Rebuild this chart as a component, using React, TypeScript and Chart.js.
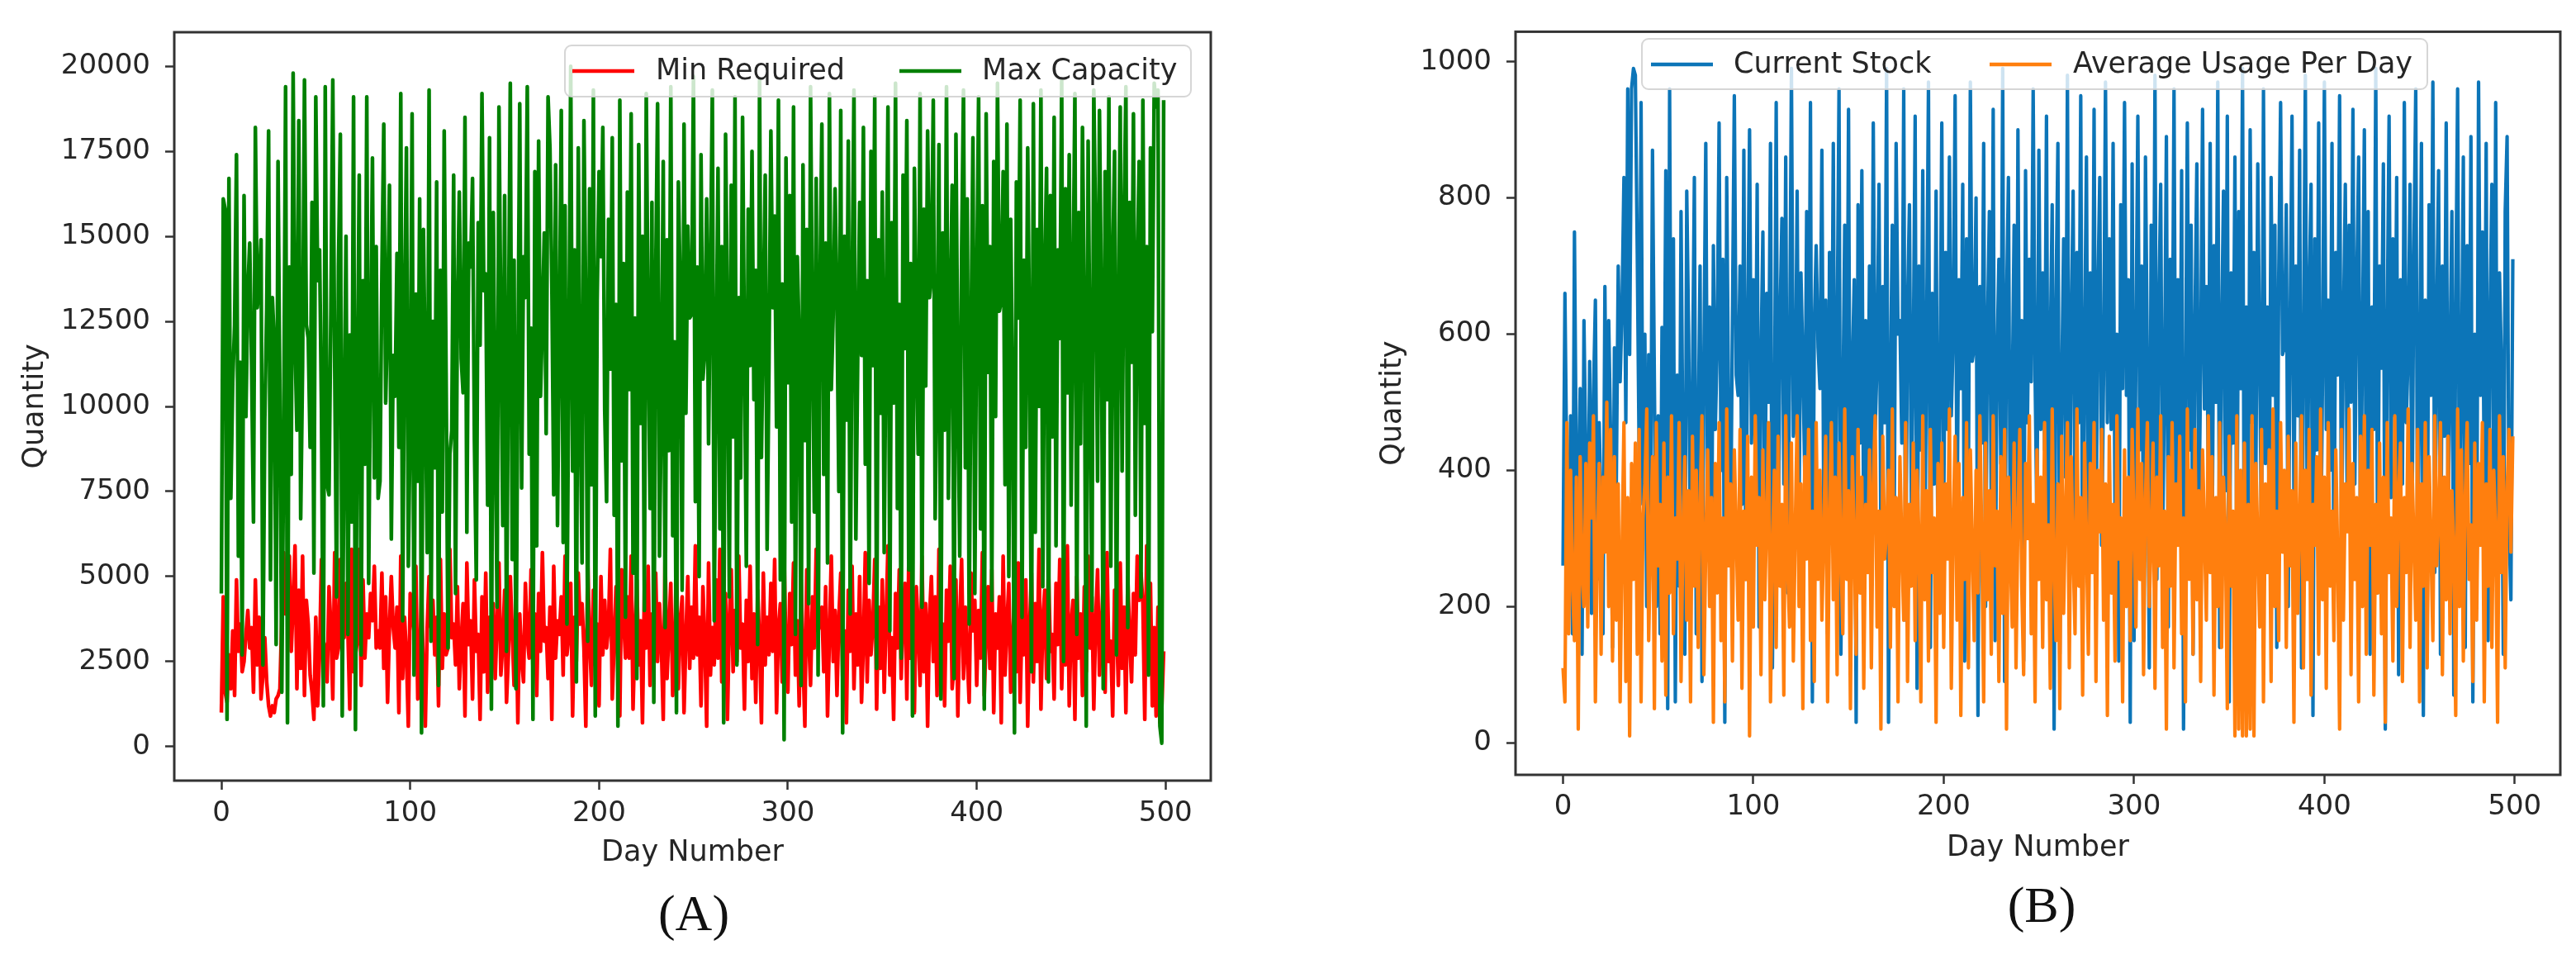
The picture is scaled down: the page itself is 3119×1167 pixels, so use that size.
import React, { FC, useEffect, useRef } from "react";
import { Chart, registerables } from "chart.js";

Chart.register(...registerables);
Chart.defaults.font.family = "'DejaVu Sans', sans-serif";

// tick labels
const xTicks = [0, 100, 200, 300, 400, 500];
const yTicksA = [0, 2500, 5000, 7500, 10000, 12500, 15000, 17500, 20000];
const yTicksB = [0, 200, 400, 600, 800, 1000];

// (A) Min Required, one value per day (0..499)
const minRequired = [
  1000, 4400, 1600, 1300, 2700, 1700, 3400, 1500, 4900, 2800, 3600, 2200, 2500, 3300, 4000, 2900, 3500, 1600, 4900, 2400,
  3800, 1400, 2100, 3200, 1900, 1200, 900, 1200, 1000, 1400, 1500, 1700, 3800, 5700, 3900, 4100, 5600, 2800, 4200, 5900,
  1700, 4600, 2300, 5600, 1500, 4300, 3600, 2100, 1600, 800, 3800, 1200, 2700, 5500, 3100, 2900, 1900, 4700, 3500, 1400,
  5700, 2600, 2900, 5500, 3700, 3200, 4800, 3400, 1100, 5800, 2200, 2700, 3100, 5800, 1800, 4900, 2600, 3900, 3200, 4500,
  3700, 5300, 2900, 3400, 2900, 5100, 2300, 4400, 1300, 3500, 5000, 3500, 2900, 4100, 1000, 5600, 2000, 3800, 2700, 600,
  4500, 3900, 3400, 5300, 1400, 2500, 4600, 2100, 600, 3500, 5000, 3500, 4300, 2700, 3800, 1200, 5500, 2300, 3900, 2700,
  2900, 5800, 3200, 3600, 2400, 4700, 1700, 3100, 4200, 900, 5400, 3000, 3700, 1400, 4900, 2800, 3300, 800, 4400, 2200,
  5100, 1600, 3800, 2500, 4200, 2000, 3600, 5400, 2100, 3000, 4600, 1300, 2700, 5000, 3400, 1800, 4300, 700, 3900, 2600,
  1900, 4800, 3200, 2600, 5200, 2300, 3900, 1500, 4500, 2800, 5700, 3100, 3500, 2000, 4100, 800, 5300, 2600, 3700, 3300,
  4400, 2100, 5600, 2700, 3300, 4800, 900, 3800, 2500, 5100, 3600, 4200, 2900, 600, 5500, 3100, 1800, 4600, 2400, 3600,
  1200, 5000, 2700, 4300, 2900, 3500, 5800, 1400, 3100, 4700, 2200, 900, 5200, 3800, 2600, 4400, 2600, 5600, 1100, 3300,
  4900, 2400, 3700, 700, 4600, 2900, 5300, 1800, 3900, 2300, 5100, 2500, 4200, 3000, 800, 5700, 2000, 3400, 4800, 1500,
  2800, 5500, 1700, 3600, 4400, 1000, 3200, 5000, 2300, 4100, 2600, 5900, 2700, 3800, 1200, 4700, 3100, 600, 5400, 2100,
  3500, 2400, 4900, 2600, 5800, 1900, 3300, 4500, 800, 3700, 5200, 2200, 4000, 2500, 5600, 2900, 3600, 1100, 4300, 2500,
  5300, 2000, 3900, 1300, 4600, 3100, 700, 5100, 2400, 3800, 2700, 4800, 2800, 5500, 1000, 3500, 4200, 1900, 5700, 2700,
  1600, 4500, 3000, 5400, 2100, 3700, 1200, 4900, 2600, 600, 5200, 3300, 1800, 4400, 2900, 5800, 3400, 3600, 4100, 2200,
  4700, 900, 3200, 5600, 2500, 4000, 1500, 3800, 5100, 2000, 3400, 700, 4600, 2800, 5300, 1700, 3900, 2400, 5000, 1300,
  3000, 5700, 1900, 4300, 2700, 3600, 5500, 1100, 4100, 2300, 4900, 1600, 3700, 5900, 2100, 3200, 800, 4500, 2900, 5200,
  2000, 3900, 4800, 1400, 5400, 2600, 3300, 1000, 4700, 3500, 1800, 5600, 2200, 4200, 600, 3800, 5000, 2500, 4400, 1500,
  5800, 2800, 3600, 1200, 4600, 3100, 5300, 1700, 2400, 4900, 900, 3700, 5500, 2000, 4100, 2700, 1300, 5100, 3400, 4300,
  1800, 4000, 2600, 5700, 1500, 3300, 4700, 2300, 5200, 1000, 3900, 2900, 4400, 700, 5600, 2100, 3600, 4800, 1600, 3000,
  4500, 2200, 5400, 1300, 3800, 2700, 4900, 600, 3500, 5100, 1900, 4200, 2500, 5800, 1100, 3700, 4600, 2000, 5300, 2800,
  3300, 1400, 4800, 3000, 5500, 1700, 4000, 2400, 5900, 1200, 3600, 4300, 800, 5000, 2600, 3900, 1500, 4700, 2200, 5600,
  2900, 4400, 1100, 3700, 5200, 2100, 3400, 4900, 1600, 5700, 2500, 3100, 900, 4600, 3800, 1800, 5400, 2300, 4100, 1000,
  5000, 3200, 1900, 4500, 2700, 5600, 4300, 5100, 4200, 800, 5900, 2400, 4800, 1200, 3500, 900, 4100, 700, 1100, 2800,
];

// (A) Max Capacity
const maxCapacity = [
  4500, 16100, 15800, 800, 16700, 7300, 10700, 12400, 17400, 5600, 11300, 2700, 16200, 9700, 13400, 14800, 11200, 6600, 18200, 12900,
  13500, 14900, 2400, 9600, 12900, 18100, 4900, 13200, 11900, 3000, 17200, 10200, 1600, 9100, 19400, 700, 14100, 8000, 19800, 11900,
  9300, 18400, 6700, 11200, 19600, 12400, 12000, 8800, 16000, 5100, 19100, 13700, 14600, 9900, 1200, 19400, 7700, 7400, 12900, 19600,
  11300, 4400, 14100, 18000, 900, 9400, 15000, 3300, 12100, 6600, 19100, 500, 10600, 16800, 2700, 13700, 8300, 19100, 4800, 11600,
  17300, 7900, 14700, 7300, 7800, 13900, 18300, 10100, 12600, 16500, 6100, 11500, 10300, 14500, 8800, 19200, 3700, 12700, 17600, 5300,
  9600, 18600, 2100, 13300, 7800, 16100, 400, 15200, 10800, 5700, 19300, 3100, 12500, 8200, 16600, 1800, 14000, 6900, 18100, 11000,
  2900, 8600, 9300, 16800, 4500, 12900, 16300, 11400, 10400, 18500, 6300, 14800, 14100, 16700, 9000, 4900, 15400, 11800, 19200, 13400,
  13900, 7100, 17900, 1100, 15700, 9700, 4100, 18800, 12400, 6500, 16200, 2800, 11700, 19500, 5500, 14300, 1700, 10900, 18900, 7600,
  14400, 13200, 19400, 8600, 12300, 800, 16900, 5900, 17800, 10300, 12500, 15100, 9200, 19100, 17600, 13600, 7400, 17100, 6500, 12000,
  18700, 6000, 15900, 3600, 11400, 20000, 8100, 14600, 1900, 17600, 10000, 5400, 18400, 12800, 3100, 16400, 7700, 19300, 900, 13100,
  16900, 14400, 18200, 9900, 7200, 15500, 11100, 17900, 6800, 13000, 600, 19000, 8400, 14200, 3800, 16300, 10500, 18600, 5100, 12600,
  2000, 17700, 9500, 15000, 4000, 19200, 12200, 7000, 16000, 1300, 13800, 18900, 5600, 10100, 17200, 3500, 14900, 8700, 19400, 6200,
  11900, 1000, 16600, 13400, 4600, 18300, 9800, 15300, 12600, 12700, 19700, 7200, 14100, 5000, 17400, 10800, 11600, 16100, 8900, 13900,
  19300, 3700, 11000, 17000, 6400, 14700, 700, 18000, 12500, 4400, 16500, 9100, 19100, 2400, 13200, 7900, 18500, 11600, 5300, 15800,
  11200, 17500, 10200, 14000, 3000, 19600, 8500, 12800, 16800, 5800, 11300, 18100, 12900, 15600, 9400, 19000, 4900, 13600, 200, 17300,
  10700, 16200, 6600, 18800, 3300, 14400, 11900, 1800, 17100, 9000, 15200, 4200, 19400, 12100, 6900, 16700, 2100, 13500, 18300, 8000,
  14800, 5400, 19200, 10500, 12700, 16400, 12900, 7500, 18700, 400, 15000, 9600, 17800, 3900, 13300, 19300, 6100, 11500, 16000, 11500,
  18200, 8300, 13700, 4800, 17500, 11200, 19100, 2300, 14900, 9800, 16300, 5700, 12400, 18800, 3400, 15400, 10100, 19500, 7000, 13000,
  2600, 16800, 11700, 18400, 5200, 14200, 900, 17000, 12300, 8600, 19200, 4100, 15800, 10600, 18100, 13200, 13800, 19000, 6700, 11400,
  17700, 1400, 15100, 9300, 19400, 7300, 12900, 16500, 2000, 18000, 10900, 5600, 14500, 19300, 8200, 16100, 3600, 12000, 17900, 4500,
  13400, 19100, 6400, 15900, 1100, 18600, 11000, 14700, 4300, 17200, 9700, 19500, 12800, 13100, 16900, 7700, 18300, 5000, 15500, 10300,
  400, 16600, 12600, 19000, 3800, 14300, 8800, 17600, 11800, 2200, 18900, 6300, 15200, 10000, 19300, 4700, 13900, 17000, 1900, 16200,
  9100, 18500, 5900, 14600, 12000, 19600, 2500, 16400, 10400, 17400, 7100, 13500, 19200, 3300, 15700, 8900, 18200, 12700, 600, 17800,
  11100, 4000, 19300, 15000, 7800, 18700, 13200, 1700, 16900, 10200, 19100, 5300, 14100, 17500, 2700, 12500, 18800, 8100, 15300, 19400,
  3500, 16000, 11300, 18600, 6800, 13900, 17200, 4400, 19000, 9500, 14700, 2100, 17600, 12200, 19500, 18800, 19300, 600, 100, 19000,
];

// (B) Current Stock
const currentStock = [
  260, 660, 390, 270, 480, 160, 750, 400, 320, 520, 130, 620, 410, 280, 560, 190, 510, 650, 240, 470,
  340, 160, 670, 350, 620, 450, 140, 580, 380, 700, 530, 640, 830, 470, 960, 570, 960, 990, 980, 720,
  420, 940, 350, 600, 200, 570, 310, 870, 530, 200, 480, 160, 610, 380, 840, 50, 960, 280, 740, 60,
  540, 230, 780, 420, 130, 810, 600, 250, 520, 830, 160, 450, 700, 90, 560, 880, 330, 640, 220, 730,
  460, 580, 910, 400, 710, 30, 830, 480, 280, 620, 950, 540, 510, 700, 350, 870, 240, 600, 900, 440,
  680, 420, 820, 170, 560, 750, 300, 660, 500, 880, 110, 430, 940, 250, 620, 770, 380, 860, 220, 540,
  990, 450, 470, 810, 340, 690, 560, 390, 780, 420, 940, 60, 610, 730, 580, 520, 870, 330, 650, 160,
  720, 410, 880, 240, 590, 960, 130, 480, 760, 360, 930, 210, 550, 680, 30, 790, 440, 840, 270, 620,
  350, 700, 380, 910, 460, 560, 820, 290, 670, 470, 990, 30, 530, 760, 310, 880, 600, 620, 440, 960,
  180, 640, 790, 350, 560, 920, 80, 700, 430, 840, 250, 590, 970, 140, 660, 380, 810, 230, 500, 910,
  330, 720, 460, 860, 480, 600, 950, 310, 680, 520, 820, 120, 740, 390, 970, 560, 580, 800, 40, 670,
  440, 880, 200, 610, 780, 340, 930, 150, 560, 710, 410, 990, 90, 640, 830, 280, 500, 760, 190, 900,
  360, 620, 120, 840, 470, 710, 530, 960, 540, 320, 870, 460, 690, 430, 920, 250, 580, 790, 20, 650,
  880, 130, 520, 740, 390, 980, 220, 610, 810, 300, 720, 470, 950, 180, 570, 860, 240, 690, 400, 930,
  280, 660, 830, 290, 540, 970, 470, 740, 460, 880, 330, 600, 120, 790, 520, 940, 510, 680, 30, 850,
  150, 590, 920, 430, 700, 260, 860, 550, 110, 760, 380, 980, 240, 630, 820, 300, 520, 890, 170, 710,
  470, 960, 320, 680, 350, 840, 20, 500, 910, 430, 760, 130, 620, 850, 310, 550, 930, 490, 670, 400,
  880, 260, 730, 500, 970, 140, 600, 810, 370, 920, 60, 690, 440, 860, 230, 780, 520, 990, 150, 640,
  330, 900, 470, 720, 380, 850, 560, 290, 960, 410, 640, 320, 830, 510, 760, 140, 680, 940, 570, 580,
  790, 200, 610, 920, 350, 700, 480, 870, 110, 570, 980, 300, 660, 820, 40, 740, 430, 910, 240, 530,
  970, 460, 650, 400, 880, 230, 720, 540, 950, 270, 610, 820, 340, 760, 500, 930, 380, 670, 860, 260,
  590, 900, 310, 780, 130, 640, 460, 990, 220, 700, 550, 850, 20, 610, 920, 360, 740, 480, 830, 100,
  680, 380, 940, 470, 570, 820, 290, 710, 960, 250, 530, 880, 40, 650, 200, 790, 510, 970, 250, 620,
  840, 130, 700, 450, 910, 330, 560, 780, 70, 640, 960, 280, 520, 860, 140, 730, 410, 890, 60, 600,
  210, 970, 510, 750, 380, 880, 150, 620, 820, 340, 940, 220, 690, 560, 130, 780, 890, 320, 210, 710,
];

// (B) Average Usage Per Day
const averageUsage = [
  110, 60, 470, 160, 400, 230, 150, 390, 20, 420, 250, 200, 410, 170, 440, 330, 480, 60, 300, 410,
  130, 390, 280, 500, 200, 460, 120, 420, 180, 380, 60, 280, 470, 90, 360, 10, 410, 240, 440, 130,
  460, 60, 330, 380, 490, 150, 300, 420, 50, 470, 260, 350, 120, 440, 70, 390, 220, 480, 160, 330,
  270, 470, 90, 310, 420, 180, 370, 60, 450, 230, 400, 140, 350, 480, 100, 290, 430, 200, 360, 30,
  410, 220, 470, 150, 330, 60, 490, 260, 380, 120, 430, 310, 180, 460, 80, 340, 240, 450, 10, 390,
  170, 480, 290, 360, 100, 430, 210, 330, 470, 60, 280, 400, 140, 450, 230, 350, 70, 480, 260, 170,
  440, 120, 310, 480, 200, 380, 50, 420, 270, 460, 150, 340, 90, 470, 240, 400, 180, 310, 450, 60,
  330, 470, 210, 390, 100, 440, 280, 160, 490, 240, 370, 50, 420, 300, 130, 460, 220, 390, 80, 350,
  250, 430, 110, 380, 480, 170, 340, 20, 450, 270, 310, 400, 140, 490, 200, 360, 60, 420, 290, 180,
  470, 90, 350, 230, 440, 150, 400, 300, 60, 480, 210, 370, 120, 460, 250, 330, 30, 410, 190, 440,
  140, 380, 270, 490, 80, 320, 450, 180, 410, 40, 360, 240, 470, 110, 430, 290, 150, 400, 220, 480,
  300, 60, 440, 210, 370, 130, 480, 260, 340, 90, 420, 190, 460, 20, 390, 280, 170, 440, 110, 330,
  460, 230, 100, 410, 300, 480, 160, 350, 60, 430, 240, 390, 140, 470, 210, 320, 80, 490, 260, 150,
  380, 50, 450, 190, 340, 470, 110, 420, 280, 160, 490, 230, 360, 70, 440, 300, 130, 410, 250, 470,
  90, 400, 310, 460, 180, 380, 40, 450, 220, 350, 120, 480, 270, 330, 60, 430, 200, 390, 150, 460,
  320, 170, 490, 240, 410, 100, 360, 470, 200, 300, 440, 80, 390, 260, 480, 140, 340, 20, 420, 230,
  470, 110, 380, 290, 450, 160, 330, 60, 490, 240, 400, 130, 460, 210, 370, 90, 430, 310, 180, 480,
  250, 420, 70, 360, 200, 470, 140, 390, 310, 50, 450, 230, 340, 10, 480, 20, 400, 10, 440, 10,
  350, 20, 480, 10, 410, 300, 170, 460, 60, 380, 250, 430, 90, 490, 200, 340, 150, 470, 280, 400,
  140, 450, 260, 370, 30, 440, 190, 320, 480, 110, 400, 240, 460, 70, 350, 290, 420, 130, 490, 210,
  390, 80, 470, 230, 340, 150, 430, 270, 20, 460, 180, 380, 310, 490, 100, 410, 240, 360, 60, 450,
  200, 480, 130, 400, 290, 460, 70, 350, 220, 440, 160, 390, 30, 470, 250, 330, 120, 480, 200, 370,
  440, 90, 360, 250, 490, 140, 410, 300, 180, 460, 60, 380, 230, 470, 110, 420, 290, 150, 480, 260,
  330, 470, 100, 390, 210, 450, 160, 370, 280, 40, 490, 200, 430, 120, 360, 470, 240, 320, 90, 440,
  180, 410, 290, 470, 60, 380, 230, 460, 140, 400, 310, 30, 480, 250, 420, 110, 370, 460, 280, 450,
];

type LegendItem = { label: string; color: string; lineX: number; textX: number };
type LegendBox = { x: number; y: number; w: number; h: number; midY: number; items: LegendItem[] };

// draws the matplotlib-style frame and the legend box
const mplDecor = (id: string, legend: LegendBox) => ({
  id,
  afterDraw(chart: Chart) {
    const { ctx, chartArea } = chart;
    ctx.save();
    ctx.strokeStyle = "#333333";
    ctx.lineWidth = 3;
    ctx.strokeRect(chartArea.left, chartArea.top, chartArea.right - chartArea.left, chartArea.bottom - chartArea.top);

    ctx.beginPath();
    ctx.roundRect(legend.x, legend.y, legend.w, legend.h, 8);
    ctx.fillStyle = "rgba(255,255,255,0.8)";
    ctx.fill();
    ctx.strokeStyle = "rgba(210,210,210,0.9)";
    ctx.lineWidth = 2;
    ctx.stroke();

    ctx.font = "35px 'DejaVu Sans'";
    ctx.textBaseline = "middle";
    legend.items.forEach((item) => {
      ctx.strokeStyle = item.color;
      ctx.lineWidth = 4.5;
      ctx.beginPath();
      ctx.moveTo(item.lineX, legend.midY);
      ctx.lineTo(item.lineX + 75, legend.midY);
      ctx.stroke();
      ctx.fillStyle = "#262626";
      ctx.fillText(item.label, item.textX, legend.midY + 1);
    });
    ctx.restore();
  },
});

type AxisCfg = {
  yMin: number; yMax: number; yTicks: number[];
  yWidth: number; yTitlePad: number; xHeight: number; xTickPad: number;
};

const makeScales = (c: AxisCfg) => ({
  x: {
    type: "linear" as const,
    min: -24.95,
    max: 523.95,
    afterBuildTicks: (s: any) => { s.ticks = xTicks.map((v) => ({ value: v })); },
    afterFit: (s: any) => { s.height = c.xHeight; },
    ticks: { color: "#262626", font: { size: 34 }, padding: c.xTickPad, maxRotation: 0, autoSkip: false, callback: (v: any) => String(v) },
    grid: { drawOnChartArea: false, drawTicks: true, tickLength: 11, tickColor: "#333333", tickWidth: 2.5 },
    border: { display: false },
    title: { display: true, text: "Day Number", color: "#262626", font: { size: 35 }, padding: { top: 0, bottom: 0 } },
  },
  y: {
    type: "linear" as const,
    min: c.yMin,
    max: c.yMax,
    afterBuildTicks: (s: any) => { s.ticks = c.yTicks.map((v) => ({ value: v })); },
    afterFit: (s: any) => { s.width = c.yWidth; },
    ticks: { color: "#262626", font: { size: 34 }, padding: 18, callback: (v: any) => String(v) },
    grid: { drawOnChartArea: false, drawTicks: true, tickLength: 11, tickColor: "#333333", tickWidth: 2.5 },
    border: { display: false },
    title: { display: true, text: "Quantity", color: "#262626", font: { size: 35 }, padding: { top: c.yTitlePad, bottom: 0 } },
  },
});

const lineStyle = (w: number) => ({ borderWidth: w, pointRadius: 0, tension: 0, borderJoinStyle: "round" as const, fill: false });

const App: FC = () => {
  const chartA = useRef<HTMLCanvasElement>(null);
  const chartB = useRef<HTMLCanvasElement>(null);

  useEffect(() => {
    if (!chartA.current) return;
    const chart = new Chart(chartA.current, {
      type: "line",
      data: {
        datasets: [
          { label: "Min Required", data: minRequired.map((y, i) => ({ x: i, y })), borderColor: "#ff0000", order: 1, ...lineStyle(4.5) },
          { label: "Max Capacity", data: maxCapacity.map((y, i) => ({ x: i, y })), borderColor: "#008000", order: 0, ...lineStyle(4.5) },
        ],
      },
      options: {
        animation: false,
        responsive: true,
        maintainAspectRatio: false,
        layout: { padding: { left: 0, top: 39, right: 94, bottom: 113 } },
        plugins: { legend: { display: false }, tooltip: { enabled: false } },
        scales: makeScales({ yMin: -1000, yMax: 21000, yTicks: yTicksA, yWidth: 211, yTitlePad: 22, xHeight: 109, xTickPad: 9 }),
      },
      plugins: [
        mplDecor("decorA", {
          x: 684, y: 55, w: 758, h: 62, midY: 86,
          items: [
            { label: "Min Required", color: "#ff0000", lineX: 693, textX: 794 },
            { label: "Max Capacity", color: "#008000", lineX: 1089, textX: 1189 },
          ],
        }),
      ],
    });
    return () => chart.destroy();
  }, []);

  useEffect(() => {
    if (!chartB.current) return;
    const chart = new Chart(chartB.current, {
      type: "line",
      data: {
        datasets: [
          { label: "Current Stock", data: currentStock.map((y, i) => ({ x: i, y })), borderColor: "#0c75b8", order: 1, ...lineStyle(4.2) },
          { label: "Average Usage Per Day", data: averageUsage.map((y, i) => ({ x: i, y })), borderColor: "#ff7f0e", order: 0, ...lineStyle(4.2) },
        ],
      },
      options: {
        animation: false,
        responsive: true,
        maintainAspectRatio: false,
        layout: { padding: { left: 0, top: 30, right: 19, bottom: 119 } },
        plugins: { legend: { display: false }, tooltip: { enabled: false } },
        scales: makeScales({ yMin: -47, yMax: 1044, yTicks: yTicksB, yWidth: 275, yTitlePad: 106, xHeight: 110, xTickPad: 8 }),
      },
      plugins: [
        mplDecor("decorB", {
          x: 428, y: 47, w: 951, h: 61, midY: 78,
          items: [
            { label: "Current Stock", color: "#0c75b8", lineX: 439, textX: 539 },
            { label: "Average Usage Per Day", color: "#ff7f0e", lineX: 849, textX: 950 },
          ],
        }),
      ],
    });
    return () => chart.destroy();
  }, []);

  const panelLabel: React.CSSProperties = {
    position: "absolute",
    fontFamily: "'Liberation Serif', serif",
    fontSize: 62,
    lineHeight: 1,
    color: "#111",
    transform: "translate(-50%, -50%)",
    whiteSpace: "nowrap",
  };

  return (
    <div style={{ position: "fixed", left: 0, top: 0, width: 3119, height: 1167, background: "#ffffff" }}>
      <div style={{ position: "absolute", left: 0, top: 0, width: 1560, height: 1167 }}>
        <canvas ref={chartA}></canvas>
      </div>
      <div style={{ position: "absolute", left: 1560, top: 0, width: 1559, height: 1167 }}>
        <canvas ref={chartB}></canvas>
      </div>
      <div style={{ ...panelLabel, left: 840, top: 1105 }}>(A)</div>
      <div style={{ ...panelLabel, left: 2472, top: 1095 }}>(B)</div>
    </div>
  );
};

export default App;
